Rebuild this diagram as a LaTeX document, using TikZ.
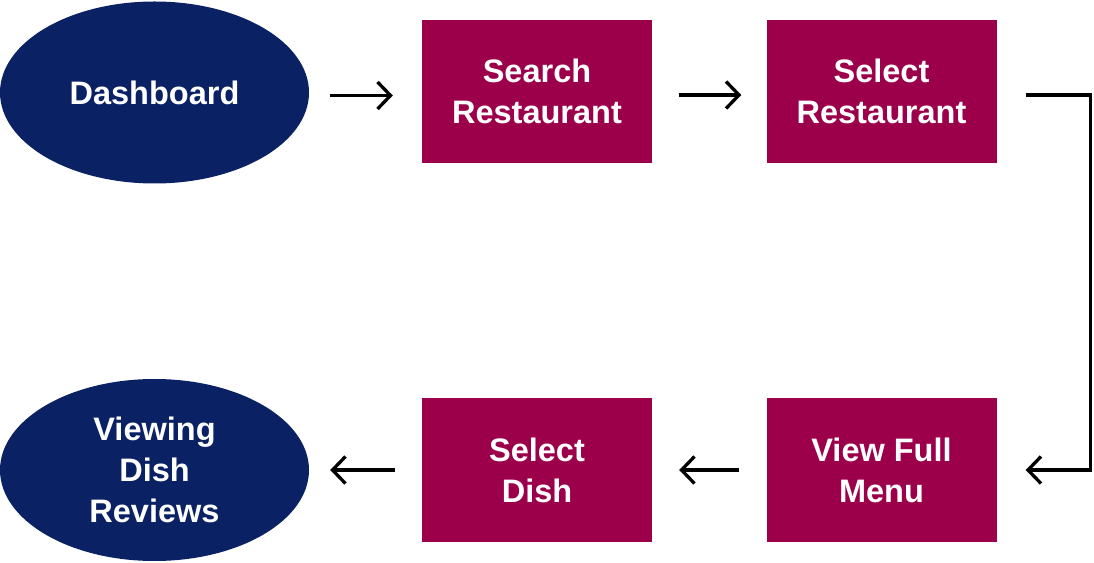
\documentclass[tikz,border=0pt]{standalone}
\usepackage{fontspec}
\setmainfont{Liberation Sans}
\usetikzlibrary{arrows.meta,shapes.geometric}
\definecolor{boxc}{HTML}{9C004B}
\definecolor{ellc}{HTML}{0A2163}
\tikzset{
  stepbox/.style={draw=none, fill=boxc, minimum width=230pt, minimum height=143pt, text=white, font=\fontsize{32.5}{41}\selectfont\bfseries, align=center, inner sep=0pt},
  ellbox/.style={ellipse, fill=ellc, minimum width=309pt, minimum height=182pt, text=white, font=\fontsize{32.5}{41}\selectfont\bfseries, align=center, inner sep=0pt},
  arr/.style={line width=3.3pt, -{Straight Barb[length=13pt, width=27pt, line width=3.3pt]}}
}
\begin{document}
\begin{tikzpicture}[x=1pt,y=1pt]
\useasboundingbox (0,0) rectangle (1094,562);
\node[ellbox] (dash) at (154.5,469.5) {Dashboard};
\node[stepbox] (search) at (537,470.5) {Search\\Restaurant};
\node[stepbox] (selr) at (881.5,470.5) {Select\\Restaurant};
\node[stepbox] (menu) at (881.5,92) {View Full\\Menu};
\node[stepbox] (dish) at (537,92) {Select\\Dish};
\node[ellbox] (rev) at (154.5,92) {Viewing\\Dish\\Reviews};
\draw[arr, shorten <=21pt, shorten >=29pt] ([yshift=-3pt]dash.east) -- ([yshift=-3pt]search.west |- dash.east);
\draw[arr, shorten <=27pt, shorten >=25pt] ([yshift=-3.5pt]search.east) -- ([yshift=-3.5pt]selr.west);
\draw[arr, shorten >=29pt] ([xshift=29pt,yshift=-3.5pt]selr.east) -- ++(65,0) |- (menu.east);
\draw[arr, shorten <=27pt, shorten >=27pt] (menu.west) -- (dish.east);
\draw[arr, shorten <=27pt, shorten >=21pt] (dish.west) -- (rev.east);
\end{tikzpicture}
\end{document}
